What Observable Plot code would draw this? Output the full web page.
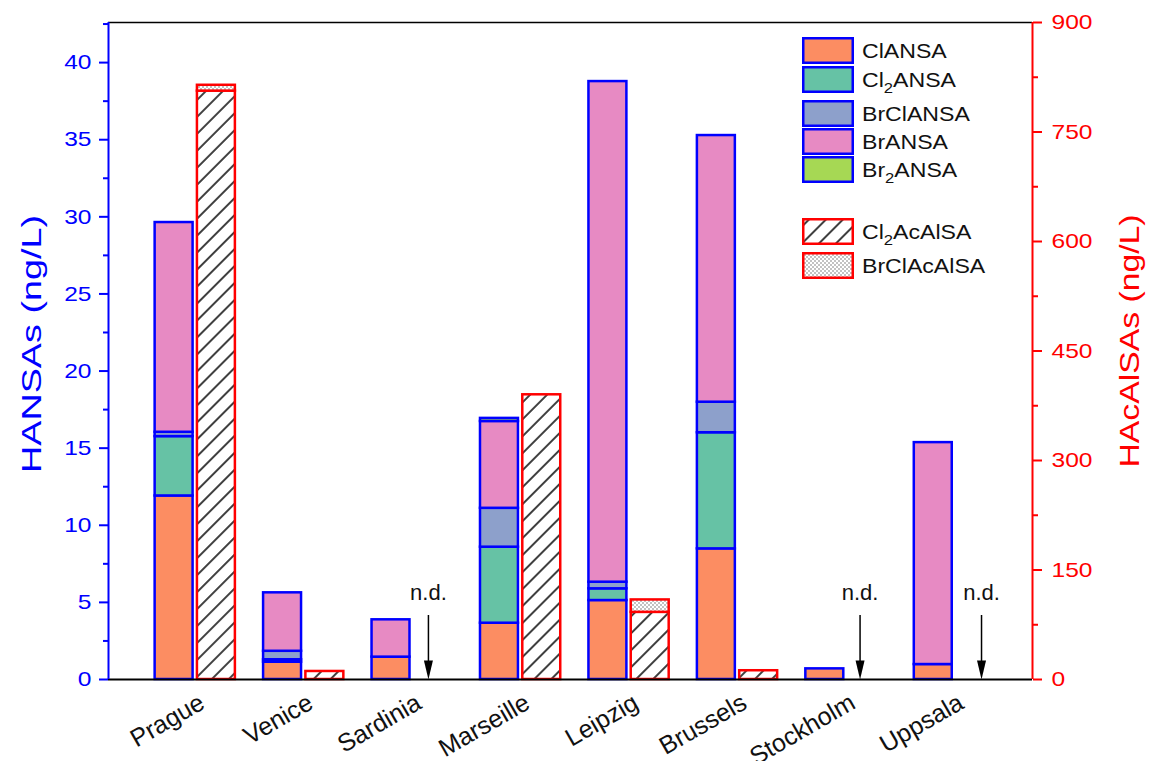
<!DOCTYPE html>
<html>
<head>
<meta charset="utf-8">
<script src="https://cdn.jsdelivr.net/npm/d3@7"></script>
<script src="https://cdn.jsdelivr.net/npm/@observablehq/plot@0.6"></script>
<style>
  body { margin: 0; background: #fff; font-family: "Liberation Sans", Arial, sans-serif; }
  #wrap { position: relative; width: 1150px; height: 761px; overflow: hidden; }
  .lg-row { position: absolute; left: 802px; display: flex; align-items: center; height: 27px; }
  .lg-row svg { display: block; }
  .lg-row span { margin-left: 8px; font-size: 21px; color: #111; white-space: nowrap; line-height: 1;
                 display: inline-block; transform: scaleX(1.1); transform-origin: left center; }
  .lg-row sub { font-size: 0.72em; vertical-align: -0.4em; line-height: 0; }
</style>
</head>
<body>
<div id="wrap"></div>
<script>
// ---------- data ----------
const cities = ["Prague", "Venice", "Sardinia", "Marseille", "Leipzig", "Brussels", "Stockholm", "Uppsala"];

// HANSAs (ng/L), left axis
const ClANSA   = [11.9, 1.12, 1.45, 3.65, 5.12, 8.47, 0.69, 0.97];
const Cl2ANSA  = [3.85, 0.16, 0,    4.93, 0.76, 7.53, 0,    0];
const BrClANSA = [0.28, 0.55, 0,    2.52, 0.43, 1.98, 0,    0];
const BrANSA   = [13.6, 3.79, 2.42, 5.63, 32.46, 17.29, 0,  14.39];
const Br2ANSA  = [0,    0,    0,    0.2,  0,    0,    0,    0];

// HAcAlSAs (ng/L), right axis
const Cl2AcAlSA  = [806, 11, 0, 390, 92, 12, 0, 0];
const BrClAcAlSA = [8,   0,  0, 0,   17, 0,  0, 0];

// not detected annotations (city, x position in category units)
const ndCities = ["Sardinia", "Stockholm", "Uppsala"];
const ndPos    = [3.15, 7.13, 8.25];

const leftTicks  = [0, 5, 10, 15, 20, 25, 30, 35, 40];
const leftMinor  = [2.5, 7.5, 12.5, 17.5, 22.5, 27.5, 32.5, 37.5, 42.5];
const rightTicks = [0, 150, 300, 450, 600, 750, 900];
const rightMinor = [75, 225, 375, 525, 675, 825];

const hansaSeries = ["ClANSA", "Cl2ANSA", "BrClANSA", "BrANSA", "Br2ANSA"];
const hansaValues = [ClANSA, Cl2ANSA, BrClANSA, BrANSA, Br2ANSA];
const hacSeries = ["Cl2AcAlSA", "BrClAcAlSA"];
const hacValues = [Cl2AcAlSA, BrClAcAlSA];
const seriesFills = ["#FC8D62", "#66C2A5", "#8DA0CB", "#E78AC3", "#A6D854", "url(#hatch)", "url(#dots)"];
const legendLabels = ["ClANSA", "Cl<sub>2</sub>ANSA", "BrClANSA", "BrANSA", "Br<sub>2</sub>ANSA", "Cl<sub>2</sub>AcAlSA", "BrClAcAlSA"];

// ---------- tables ----------
const hansa = [];
hansaSeries.forEach((s, j) => hansaValues[j].forEach((v, i) => {
  if (v > 0) hansa.push({city: cities[i], idx: i + 1, series: s, value: v});
}));
const hac = [];
hacSeries.forEach((s, j) => hacValues[j].forEach((v, i) => {
  if (v > 0) hac.push({city: cities[i], idx: i + 1, series: s, value: v});
}));

const LEFT_MAX = 42.6, RIGHT_MAX = 900, k = LEFT_MAX / RIGHT_MAX;
const XMIN = 0.2, XMAX = 8.72;
const BLUE = "#0000ff", RED = "#ff0000";

const arrowHead = {
  draw(ctx) { ctx.moveTo(-4.5, -19); ctx.lineTo(4.5, -19); ctx.lineTo(0, 0); ctx.closePath(); }
};

const plot = Plot.plot({
  width: 1150, height: 761,
  marginTop: 22, marginBottom: 82, marginLeft: 108, marginRight: 118,
  style: {fontFamily: '"Liberation Sans", Arial, sans-serif', background: "transparent", overflow: "visible"},
  x: {domain: [XMIN, XMAX], axis: null},
  y: {domain: [0, LEFT_MAX], axis: null},
  color: {domain: [...hansaSeries, ...hacSeries], range: seriesFills},
  marks: [
    Plot.rectY(hansa, {x1: d => d.idx - 0.37, x2: d => d.idx - 0.02, y: "value", fill: "series",
      stroke: BLUE, strokeWidth: 2.5}),
    Plot.rectY(hac, {x1: d => d.idx + 0.02, x2: d => d.idx + 0.37, y: d => d.value * k, fill: "series",
      stroke: RED, strokeWidth: 2.5}),
    // frame
    Plot.ruleY([LEFT_MAX], {stroke: "#000", strokeWidth: 1.5}),
    Plot.ruleY([0], {stroke: "#000", strokeWidth: 2}),
    Plot.ruleX([XMIN], {stroke: BLUE, strokeWidth: 2}),
    Plot.ruleX([XMAX], {stroke: RED, strokeWidth: 2}),
    // left axis
    Plot.axisY({anchor: "left", ticks: leftTicks, tickSize: 9, tickPadding: 8, fontSize: 21,
      color: BLUE, strokeWidth: 2, label: null}),
    Plot.axisY({anchor: "left", ticks: leftMinor, tickSize: 5, tickFormat: () => "",
      color: BLUE, strokeWidth: 2, label: null}),
    // right axis
    Plot.axisY({anchor: "right", ticks: rightTicks.map(v => v * k), tickFormat: d => String(Math.round(d / k)),
      tickSize: 9, tickPadding: 10, fontSize: 21, color: RED, strokeWidth: 2, label: null}),
    Plot.axisY({anchor: "right", ticks: rightMinor.map(v => v * k), tickSize: 5, tickFormat: () => "",
      color: RED, strokeWidth: 2, label: null}),
    // category labels
    Plot.text(cities, {x: (d, i) => i + 1, frameAnchor: "bottom", text: d => d, rotate: -30,
      textAnchor: "end", lineAnchor: "middle", dx: 7, dy: 21, fontSize: 25, fill: "#111"}),
    // n.d. annotations
    Plot.ruleX(ndCities, {x: (d, i) => ndPos[i], y1: 0.9, y2: 4.15, stroke: "#000", strokeWidth: 1.5}),
    Plot.dot(ndCities, {x: (d, i) => ndPos[i], y: 0, symbol: arrowHead, fill: "#000", stroke: "none", r: 5}),
    Plot.text(ndCities, {x: (d, i) => ndPos[i], y: 5.6, text: () => "n.d.", fontSize: 22, fill: "#111"})
  ]
});

// patterns
d3.select(plot).insert("defs", ":first-child").html(`
  <pattern id="hatch" patternUnits="userSpaceOnUse" width="12" height="12" patternTransform="rotate(45)">
    <rect width="12" height="12" fill="#fff"/>
    <line x1="6" y1="0" x2="6" y2="12" stroke="#000" stroke-width="1.5"/>
  </pattern>
  <pattern id="dots" patternUnits="userSpaceOnUse" width="4" height="4">
    <rect width="4" height="4" fill="#fff"/>
    <circle cx="1" cy="1" r="0.75" fill="#666"/>
    <circle cx="3" cy="3" r="0.75" fill="#666"/>
  </pattern>`);

// axis titles
const svg = d3.select(plot);
svg.append("text")
  .attr("transform", "translate(31,344) rotate(-90)")
  .attr("text-anchor", "middle").attr("dominant-baseline", "central")
  .attr("font-size", 28).attr("fill", BLUE)
  .attr("textLength", 258).attr("lengthAdjust", "spacingAndGlyphs")
  .text("HANSAs (ng/L)");
svg.append("text")
  .attr("transform", "translate(1129,341) rotate(-90)")
  .attr("text-anchor", "middle").attr("dominant-baseline", "central")
  .attr("font-size", 28).attr("fill", RED)
  .attr("textLength", 253).attr("lengthAdjust", "spacingAndGlyphs")
  .text("HAcAlSAs (ng/L)");

const wrap = document.getElementById("wrap");
wrap.appendChild(plot);

// the reference's tick labels are slightly wide: stretch them horizontally
svg.selectAll('g[aria-label="y-axis tick label"] text').each(function() {
  const len = this.getComputedTextLength();
  if (len > 0) {
    this.setAttribute("textLength", (len * 1.17).toFixed(1));
    this.setAttribute("lengthAdjust", "spacingAndGlyphs");
  }
});

// legend
const legendTops = [37, 66, 100, 128, 156, 218, 252];
const legendStroke = [BLUE, BLUE, BLUE, BLUE, BLUE, RED, RED];
legendLabels.forEach((lab, i) => {
  const row = document.createElement("div");
  row.className = "lg-row";
  row.style.top = legendTops[i] + "px";
  row.innerHTML = `<svg width="52" height="27"><rect x="1.25" y="1.25" width="49.5" height="24.5"
      fill="${seriesFills[i]}" stroke="${legendStroke[i]}" stroke-width="2.5"/></svg><span>${lab}</span>`;
  wrap.appendChild(row);
});
</script>
</body>
</html>
